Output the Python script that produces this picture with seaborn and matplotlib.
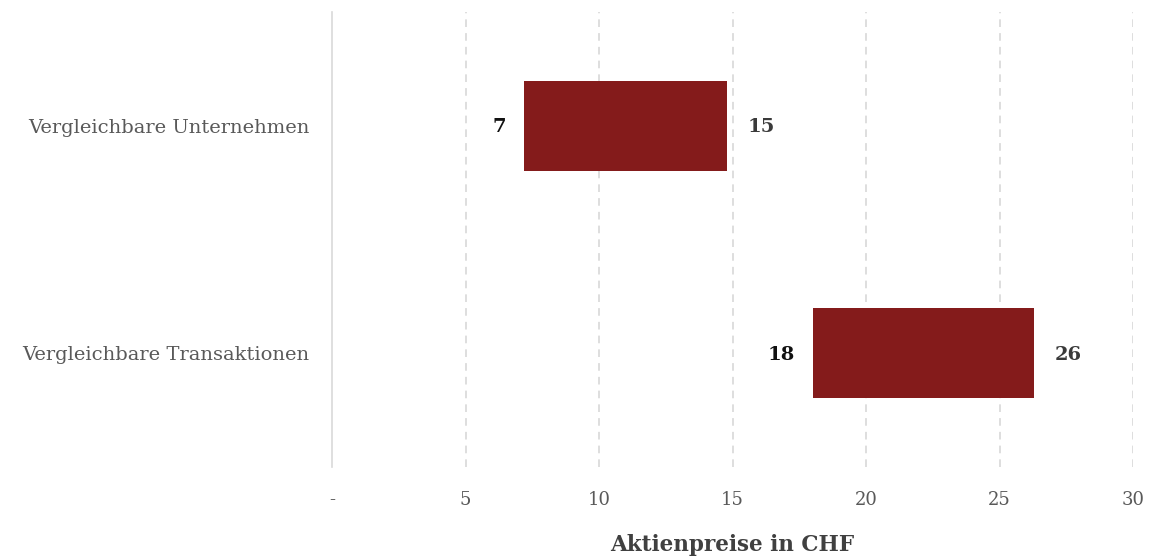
import pandas as pd
import numpy as np
import matplotlib.pyplot as plt
import seaborn as sns

categories = ["Vergleichbare Unternehmen", "Vergleichbare Transaktionen"]
low = [7.2, 18.0]
high = [14.8, 26.3]
low_labels = ["7", "18"]
high_labels = ["15", "26"]
ticks = [0, 5, 10, 15, 20, 25, 30]
tick_labels = ["-", "5", "10", "15", "20", "25", "30"]

df = pd.DataFrame({"cat": categories, "low": low, "high": high})

sns.set_theme(style="white")
plt.rcParams["font.family"] = ["DejaVu Serif"]

fig = plt.figure(figsize=(11.57, 5.58), dpi=100)
ax = fig.add_axes([332 / 1157, 91 / 558, 801 / 1157, 455 / 558])

# floating bars: barplot draws the high value, then each patch is moved to start at low
sns.barplot(data=df, x="high", y="cat", color="#841B1B", saturation=1, width=0.395, ax=ax)
for p, lo, hi in zip(ax.patches, df["low"], df["high"]):
    p.set_x(lo)
    p.set_width(hi - lo)
    p.set_edgecolor("none")

for i, (lo, hi) in enumerate(zip(low, high)):
    ax.annotate(low_labels[i], (lo, i), xytext=(-13, -1), textcoords="offset points",
                ha="right", va="center", fontsize=14, fontweight="bold", color="#111111")
    ax.annotate(high_labels[i], (hi, i), xytext=(15, -1), textcoords="offset points",
                ha="left", va="center", fontsize=14, fontweight="bold", color="#3a3a3a")

ax.set_xlim(0, 30)
ax.set_ylim(1.5, -0.5)
ax.set_xticks(ticks)
ax.set_xticklabels(tick_labels, color="#595959", fontsize=13)
ax.tick_params(axis="x", length=0, pad=17)
ax.tick_params(axis="y", length=0, pad=16, labelsize=14, labelcolor="#595959")
for x in ticks[1:]:
    ax.axvline(x, color="#d4d4d4", linestyle=(0, (5, 4)), linewidth=1.1, zorder=0)
for s in ["top", "right", "bottom"]:
    ax.spines[s].set_visible(False)
ax.spines["left"].set_color("#d9d9d9")
ax.spines["left"].set_linewidth(1.2)
ax.set_ylabel("")
ax.set_xlabel("Aktienpreise in CHF", fontsize=15.5, fontweight="bold", color="#404040", labelpad=18)

fig.savefig("out.png", dpi=100)
